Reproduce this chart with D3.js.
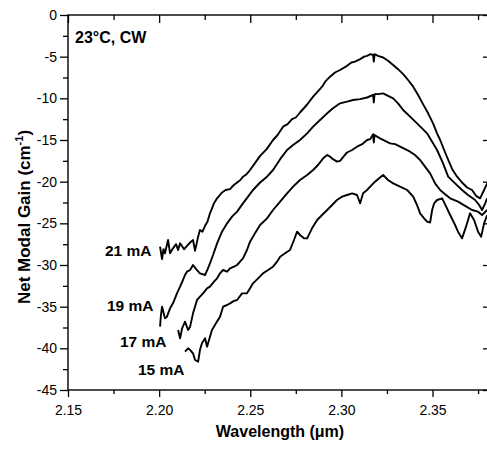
<!DOCTYPE html>
<html>
<head>
<meta charset="utf-8">
<script src="https://cdn.jsdelivr.net/npm/d3@7"></script>
<style>
  body { margin: 0; background: #fff; }
  text { font-family: Arial, "Liberation Sans", sans-serif; fill: #000; }
</style>
</head>
<body>
<svg id="chart" width="487" height="452"></svg>
<script>
'use strict';

// tick values
const xMajorTicks = [2.15, 2.20, 2.25, 2.30, 2.35];
const xMinorTicks = [2.175, 2.225, 2.275, 2.325, 2.375];
const yMajorTicks = [0, -5, -10, -15, -20, -25, -30, -35, -40, -45];
const yMinorTicks = [-2.5, -7.5, -12.5, -17.5, -22.5, -27.5, -32.5, -37.5, -42.5];

// drive currents and their labels
const currents = ['21 mA', '19 mA', '17 mA', '15 mA'];

// [wavelength (um), net modal gain (cm-1)]
const gain21 = [
  [2.2005,-27.8],[2.2016,-29.3],[2.2024,-28.1],[2.2032,-28.6],[2.2049,-27.0],[2.2060,-28.6],
  [2.2076,-28.0],[2.2093,-27.5],[2.2104,-28.2],[2.2115,-27.4],[2.2137,-28.1],[2.2153,-27.7],
  [2.2170,-27.3],[2.2186,-27.0],[2.2197,-28.3],[2.2214,-26.6],[2.2224,-25.8],[2.2238,-26.0],
  [2.2252,-25.3],[2.2265,-24.8],[2.2279,-23.8],[2.2301,-22.6],[2.2318,-22.0],[2.2345,-21.3],
  [2.2365,-21.0],[2.2389,-20.9],[2.2410,-20.4],[2.2428,-20.1],[2.2446,-19.8],[2.2460,-19.4],
  [2.2480,-19.1],[2.2499,-18.6],[2.2525,-17.8],[2.2554,-16.9],[2.2590,-16.1],[2.2625,-15.0],
  [2.2650,-14.4],[2.2680,-13.4],[2.2705,-13.1],[2.2729,-12.5],[2.2750,-12.3],[2.2773,-11.7],
  [2.2810,-10.8],[2.2845,-9.8],[2.2870,-9.2],[2.2894,-8.6],[2.2915,-7.9],[2.2938,-7.4],
  [2.2965,-6.9],[2.2993,-6.6],[2.3031,-6.1],[2.3055,-5.7],[2.3075,-5.6],[2.3103,-5.3],
  [2.3125,-5.0],[2.3141,-4.9],[2.3160,-4.7],[2.3174,-4.8],[2.3178,-5.6],[2.3182,-4.7],
  [2.3201,-4.9],[2.3229,-5.1],[2.3256,-5.5],[2.3284,-6.0],[2.3311,-6.5],[2.3339,-7.1],
  [2.3366,-7.8],[2.3394,-8.6],[2.3421,-9.6],[2.3448,-10.7],[2.3476,-11.8],[2.3503,-13.0],
  [2.3525,-14.2],[2.3542,-15.0],[2.3575,-16.8],[2.3608,-18.5],[2.3635,-19.4],[2.3662,-20.1],
  [2.3690,-20.7],[2.3717,-21.0],[2.3739,-21.7],[2.3761,-22.0],[2.3783,-21.0],[2.3800,-20.2]
];

const gain19 = [
  [2.2005,-37.4],[2.2010,-36.0],[2.2016,-35.0],[2.2032,-36.4],[2.2043,-36.2],[2.2060,-35.2],
  [2.2076,-34.6],[2.2098,-33.4],[2.2115,-32.6],[2.2131,-31.8],[2.2142,-31.2],[2.2153,-30.8],
  [2.2170,-30.6],[2.2186,-30.0],[2.2203,-30.5],[2.2224,-31.0],[2.2252,-31.2],[2.2268,-30.4],
  [2.2279,-29.8],[2.2296,-28.8],[2.2318,-27.4],[2.2345,-26.0],[2.2373,-25.0],[2.2400,-24.2],
  [2.2428,-23.6],[2.2460,-22.6],[2.2488,-21.8],[2.2515,-21.0],[2.2554,-20.1],[2.2592,-19.4],
  [2.2625,-18.6],[2.2664,-17.3],[2.2702,-16.2],[2.2735,-15.6],[2.2773,-15.0],[2.2812,-14.2],
  [2.2845,-13.4],[2.2883,-12.6],[2.2922,-11.8],[2.2954,-11.2],[2.2993,-10.6],[2.3031,-10.4],
  [2.3064,-10.2],[2.3103,-10.1],[2.3141,-9.9],[2.3174,-9.6],[2.3178,-10.5],[2.3182,-9.5],
  [2.3201,-9.5],[2.3229,-9.4],[2.3256,-9.7],[2.3284,-10.0],[2.3311,-10.6],[2.3339,-11.4],
  [2.3377,-12.2],[2.3415,-13.0],[2.3443,-13.6],[2.3470,-14.2],[2.3498,-15.2],[2.3525,-16.2],
  [2.3558,-17.8],[2.3586,-19.4],[2.3624,-20.2],[2.3662,-21.0],[2.3695,-21.6],[2.3734,-22.2],
  [2.3756,-22.8],[2.3772,-23.4],[2.3789,-22.6],[2.3800,-22.0]
];

const gain17 = [
  [2.2104,-37.8],[2.2115,-38.8],[2.2126,-37.6],[2.2142,-36.8],[2.2159,-37.8],[2.2170,-37.4],
  [2.2186,-35.8],[2.2208,-34.2],[2.2224,-33.8],[2.2241,-33.4],[2.2263,-32.8],[2.2279,-32.6],
  [2.2301,-32.0],[2.2318,-31.6],[2.2334,-31.0],[2.2351,-30.6],[2.2373,-30.8],[2.2389,-30.4],
  [2.2411,-30.2],[2.2428,-30.0],[2.2444,-29.6],[2.2460,-29.2],[2.2482,-28.2],[2.2499,-27.2],
  [2.2526,-26.2],[2.2554,-25.2],[2.2592,-24.4],[2.2625,-23.4],[2.2664,-22.4],[2.2702,-21.4],
  [2.2735,-20.6],[2.2773,-19.8],[2.2812,-19.2],[2.2845,-18.6],[2.2872,-18.0],[2.2900,-17.2],
  [2.2922,-16.8],[2.2938,-17.0],[2.2954,-17.3],[2.2976,-17.6],[2.2993,-17.5],[2.3015,-16.9],
  [2.3031,-16.5],[2.3059,-16.2],[2.3086,-15.8],[2.3114,-15.5],[2.3141,-15.0],[2.3158,-14.9],
  [2.3174,-14.3],[2.3178,-15.3],[2.3182,-14.4],[2.3196,-14.6],[2.3212,-14.8],[2.3240,-15.1],
  [2.3267,-15.4],[2.3295,-15.5],[2.3322,-15.8],[2.3350,-16.1],[2.3377,-16.4],[2.3404,-16.8],
  [2.3432,-17.4],[2.3459,-18.2],[2.3487,-19.0],[2.3514,-20.2],[2.3542,-21.0],[2.3569,-21.5],
  [2.3597,-22.0],[2.3640,-22.4],[2.3679,-22.9],[2.3717,-23.4],[2.3750,-23.6],[2.3772,-24.0],
  [2.3800,-23.4]
];

const gain15 = [
  [2.2142,-40.4],[2.2159,-40.0],[2.2170,-40.2],[2.2186,-40.6],[2.2197,-41.4],[2.2214,-41.6],
  [2.2224,-40.2],[2.2235,-39.4],[2.2252,-38.8],[2.2263,-39.8],[2.2279,-38.6],[2.2290,-37.8],
  [2.2312,-37.0],[2.2334,-36.2],[2.2351,-35.0],[2.2373,-34.8],[2.2389,-34.6],[2.2411,-34.3],
  [2.2428,-34.2],[2.2455,-33.4],[2.2482,-33.4],[2.2499,-32.8],[2.2515,-32.2],[2.2543,-31.6],
  [2.2570,-31.0],[2.2598,-30.6],[2.2625,-30.2],[2.2647,-29.6],[2.2664,-29.0],[2.2691,-28.6],
  [2.2718,-28.2],[2.2740,-27.0],[2.2757,-26.0],[2.2773,-26.4],[2.2795,-26.8],[2.2812,-26.8],
  [2.2839,-25.6],[2.2867,-24.6],[2.2894,-24.0],[2.2922,-23.4],[2.2949,-22.8],[2.2976,-22.2],
  [2.3004,-21.8],[2.3031,-21.6],[2.3059,-21.4],[2.3086,-21.6],[2.3103,-22.6],[2.3119,-21.4],
  [2.3141,-21.0],[2.3158,-20.6],[2.3185,-20.0],[2.3207,-19.6],[2.3229,-19.2],[2.3256,-19.8],
  [2.3284,-20.2],[2.3322,-20.6],[2.3361,-21.0],[2.3394,-21.8],[2.3415,-22.8],[2.3432,-23.8],
  [2.3454,-24.4],[2.3470,-24.8],[2.3487,-24.9],[2.3498,-23.4],[2.3509,-22.6],[2.3525,-22.2],
  [2.3553,-22.0],[2.3575,-23.0],[2.3597,-24.0],[2.3624,-25.2],[2.3640,-26.0],[2.3662,-26.8],
  [2.3684,-25.4],[2.3706,-23.8],[2.3728,-24.6],[2.3750,-26.0],[2.3767,-26.6],[2.3783,-25.0],
  [2.3800,-24.0]
];

const series = [gain21, gain19, gain17, gain15];

/**
 * Layout
 */
const PLOT = {left: 68, right: 489, top: 15, bottom: 390};
const FONT_TICK = '14px';

const svg = d3.select('#chart');

const x = d3.scaleLinear().domain([2.15, 2.381]).range([PLOT.left, PLOT.right]);
const y = d3.scaleLinear().domain([-45, 0]).range([PLOT.bottom, PLOT.top]);

// clip so the curves stop at the frame
svg.append('defs').append('clipPath').attr('id', 'plot-clip')
  .append('rect')
  .attr('x', PLOT.left)
  .attr('y', PLOT.top)
  .attr('width', PLOT.right - PLOT.left)
  .attr('height', PLOT.bottom - PLOT.top);

function styleAxis(g) {
  g.select('.domain').remove();
  g.selectAll('line').attr('stroke', '#000').attr('stroke-width', 1.3);
  g.selectAll('text').style('font-size', FONT_TICK);
}

// bottom axis, ticks outward
svg.append('g')
  .attr('transform', `translate(0,${PLOT.bottom})`)
  .call(d3.axisBottom(x).tickValues(xMajorTicks).tickSize(7).tickPadding(8).tickFormat(d3.format('.2f')))
  .call(styleAxis);

svg.append('g')
  .attr('transform', `translate(0,${PLOT.bottom})`)
  .call(d3.axisBottom(x).tickValues(xMinorTicks).tickSize(4).tickFormat(''))
  .call(styleAxis);

// top axis, ticks inward
svg.append('g')
  .attr('transform', `translate(0,${PLOT.top})`)
  .call(d3.axisTop(x).tickValues(xMajorTicks).tickSize(-8).tickFormat(''))
  .call(styleAxis);

svg.append('g')
  .attr('transform', `translate(0,${PLOT.top})`)
  .call(d3.axisTop(x).tickValues(xMinorTicks).tickSize(-5).tickFormat(''))
  .call(styleAxis);

// left axis, ticks outward; plain hyphen for the minus sign like the original
svg.append('g')
  .attr('transform', `translate(${PLOT.left},0)`)
  .call(d3.axisLeft(y).tickValues(yMajorTicks).tickSize(8).tickPadding(3).tickFormat(d => String(d)))
  .call(styleAxis);

svg.append('g')
  .attr('transform', `translate(${PLOT.left},0)`)
  .call(d3.axisLeft(y).tickValues(yMinorTicks).tickSize(5).tickFormat(''))
  .call(styleAxis);

// right axis, ticks inward (frame edge itself falls just off the picture)
svg.append('g')
  .attr('transform', `translate(${PLOT.right},0)`)
  .call(d3.axisRight(y).tickValues(yMajorTicks).tickSize(-6).tickFormat(''))
  .call(styleAxis);

// frame
svg.append('rect')
  .attr('x', PLOT.left)
  .attr('y', PLOT.top)
  .attr('width', PLOT.right - PLOT.left)
  .attr('height', PLOT.bottom - PLOT.top)
  .attr('fill', 'none')
  .attr('stroke', '#000')
  .attr('stroke-width', 1.4);

// gain curves
const line = d3.line()
  .x(d => x(d[0]))
  .y(d => y(d[1]));

svg.append('g')
  .attr('clip-path', 'url(#plot-clip)')
  .selectAll('path')
  .data(series)
  .join('path')
  .attr('d', line)
  .attr('fill', 'none')
  .attr('stroke', '#000')
  .attr('stroke-width', 1.9)
  .attr('stroke-linejoin', 'round');

// current labels, placed left of each curve start
const labelPos = [[105, 256], [107, 311], [120, 347], [138, 375]];
svg.append('g')
  .selectAll('text')
  .data(currents)
  .join('text')
  .attr('x', (d, i) => labelPos[i][0])
  .attr('y', (d, i) => labelPos[i][1])
  .style('font-size', '15.5px')
  .style('font-weight', 'bold')
  .text(d => d);

// condition label
svg.append('text')
  .attr('x', 75)
  .attr('y', 43)
  .style('font-size', '16px')
  .style('font-weight', 'bold')
  .text('23°C, CW');

// axis titles
svg.append('text')
  .attr('x', 280)
  .attr('y', 437)
  .attr('text-anchor', 'middle')
  .style('font-size', '16px')
  .style('font-weight', 'bold')
  .text('Wavelength (μm)');

const yTitle = svg.append('text')
  .attr('transform', 'translate(30,217) rotate(-90)')
  .attr('text-anchor', 'middle')
  .style('font-size', '17px')
  .style('font-weight', 'bold');

yTitle.append('tspan').text('Net Modal Gain (cm');
yTitle.append('tspan').attr('dy', -7).style('font-size', '11px').text('-1');
yTitle.append('tspan').attr('dy', 7).text(')');
</script>
</body>
</html>
